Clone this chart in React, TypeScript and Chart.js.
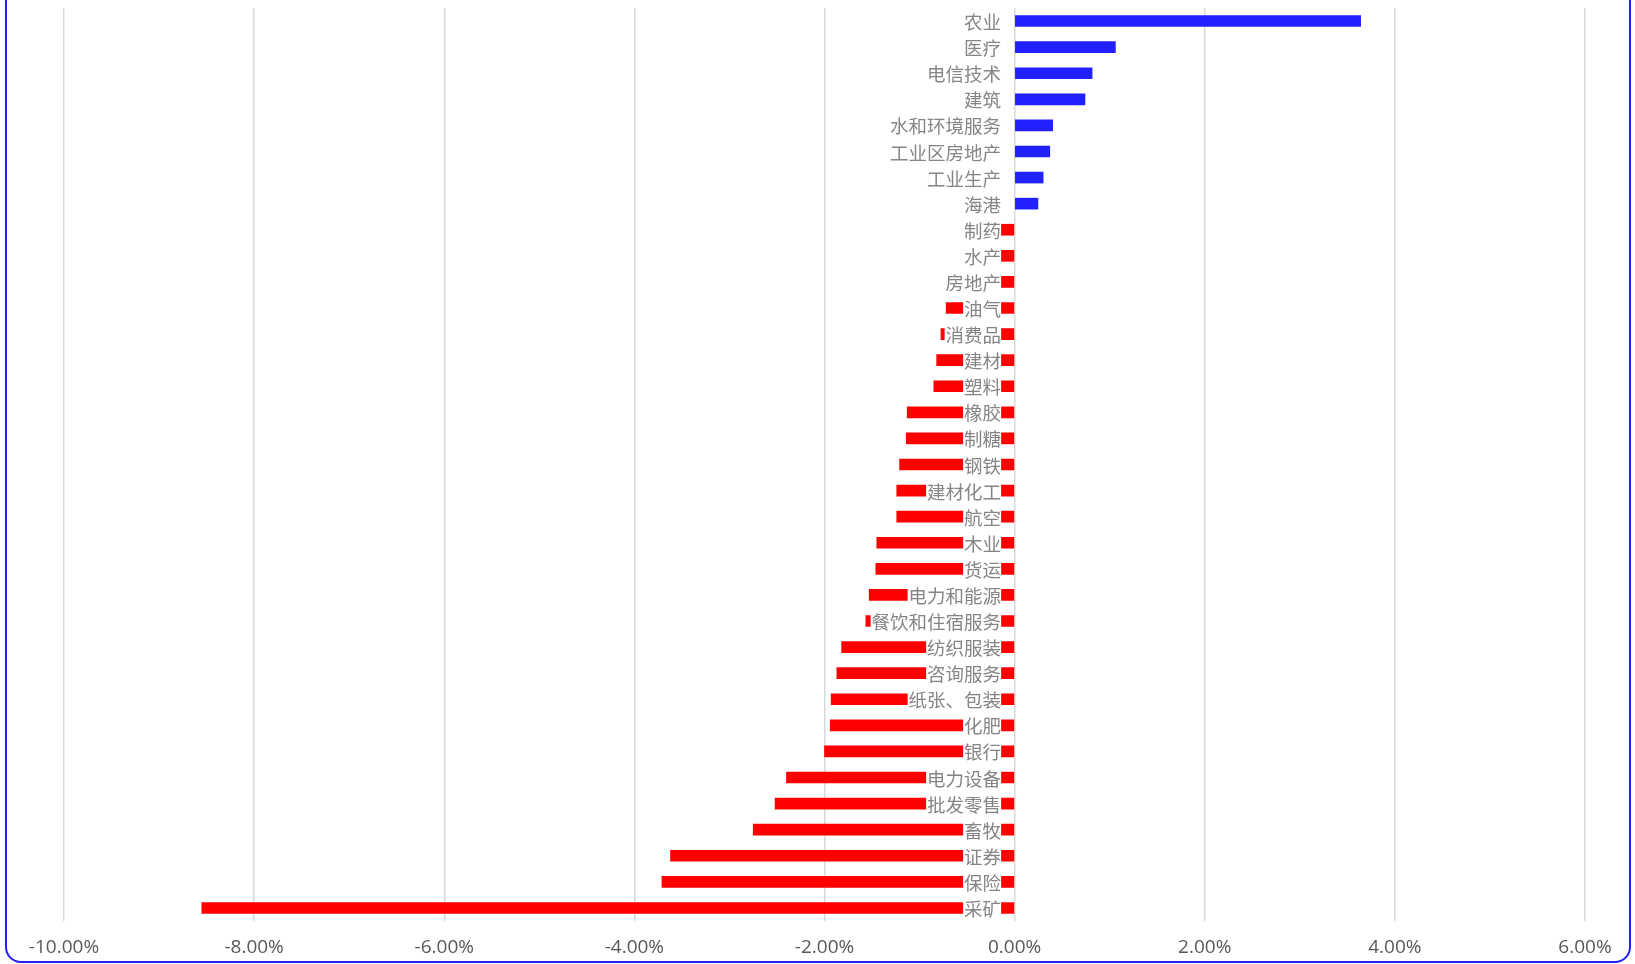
import React, { useEffect, useRef } from "react";
import { Chart, registerables } from "chart.js";

Chart.register(...registerables);

const categories = [
  "农业", "医疗", "电信技术", "建筑", "水和环境服务", "工业区房地产", "工业生产", "海港",
  "制药", "水产", "房地产", "油气", "消费品", "建材", "塑料", "橡胶", "制糖", "钢铁",
  "建材化工", "航空", "木业", "货运", "电力和能源", "餐饮和住宿服务", "纺织服装", "咨询服务",
  "纸张、包装", "化肥", "银行", "电力设备", "批发零售", "畜牧", "证券", "保险", "采矿",
];

// percent change
const changes = [
  3.64, 1.06, 0.815, 0.74, 0.40, 0.37, 0.30, 0.245,
  -0.25, -0.3, -0.45, -0.72, -0.775, -0.82, -0.85, -1.13, -1.14, -1.21,
  -1.24, -1.24, -1.45, -1.46, -1.53, -1.565, -1.82, -1.87,
  -1.93, -1.94, -2.0, -2.4, -2.52, -2.75, -3.62, -3.71, -8.55,
];

const xTicks = [-10, -8, -6, -4, -2, 0, 2, 4, 6];

const POS_COLOR = "#2121ff";
const NEG_COLOR = "#ff0000";

const labelPlugin = {
  id: "zeroLabels",
  afterDatasetsDraw(chart: any) {
    const ctx = chart.ctx;
    const xs = chart.scales.x;
    const ys = chart.scales.y;
    const x0 = xs.getPixelForValue(0) - 13.5;
    ctx.save();
    ctx.font = '18.5px "Noto Sans CJK SC"';
    ctx.textAlign = "right";
    ctx.textBaseline = "middle";
    categories.forEach((c, i) => {
      const y = ys.getPixelForValue(i);
      const w = ctx.measureText(c).width;
      ctx.fillStyle = "#ffffff";
      ctx.fillRect(x0 - w - 1, y - 10, w + 1, 20);
      ctx.fillStyle = "#858585";
      ctx.fillText(c, x0, y + 1);
    });
    ctx.restore();
  },
};

export default function App() {
  const ref = useRef<HTMLCanvasElement | null>(null);
  useEffect(() => {
    if (!ref.current) return;
    const chart = new Chart(ref.current, {
      type: "bar",
      data: {
        labels: categories,
        datasets: [
          {
            data: changes,
            backgroundColor: changes.map((v) => (v >= 0 ? POS_COLOR : NEG_COLOR)),
            barThickness: 11,
          },
        ],
      },
      options: {
        indexAxis: "y",
        animation: false,
        responsive: false,
        maintainAspectRatio: false,
        layout: { padding: { left: 64, right: 50, top: 8, bottom: 0 } },
        plugins: {
          legend: { display: false },
          tooltip: { enabled: false },
        },
        scales: {
          y: {
            type: "category",
            display: false,
            grid: { display: false },
          },
          x: {
            type: "linear",
            min: -10,
            max: 6,
            afterBuildTicks(axis: any) {
              axis.ticks = xTicks.map((v) => ({ value: v }));
            },
            afterFit(axis: any) {
              axis.height = 43;
            },
            border: { display: false },
            grid: { color: "#d9d9d9", lineWidth: 1.5, drawTicks: false },
            ticks: {
              padding: 15,
              color: "#595959",
              font: { family: '"Open Sans"', size: 19 },
              maxRotation: 0,
              callback: (v: any) => Number(v).toFixed(2) + "%",
            },
          },
        },
      },
      plugins: [labelPlugin],
    });
    return () => chart.destroy();
  }, []);

  return (
    <div style={{ position: "fixed", left: 0, top: 0, width: 1635, height: 964, background: "#fff", overflow: "hidden" }}>
      <canvas ref={ref} width={1635} height={964} style={{ position: "absolute", left: 0, top: 0 }} />
      <div
        style={{
          position: "absolute",
          left: 5,
          top: -30,
          width: 1626,
          height: 993,
          border: "2px solid #2020ff",
          borderRadius: 16,
          boxSizing: "border-box",
          pointerEvents: "none",
        }}
      />
    </div>
  );
}
